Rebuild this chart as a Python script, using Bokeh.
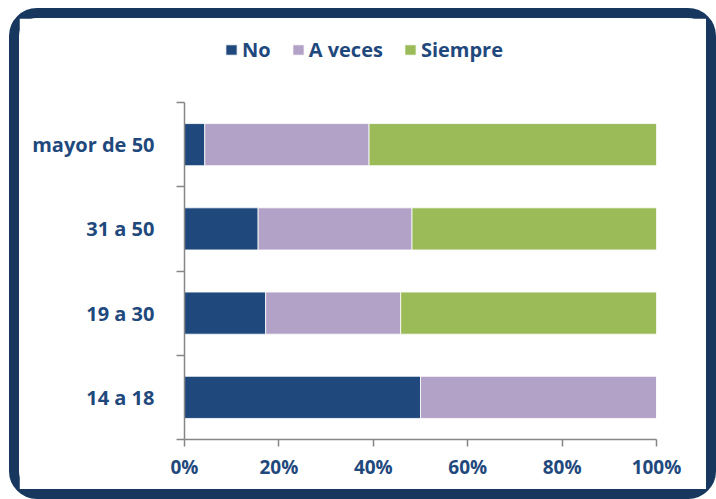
from bokeh.plotting import figure
from bokeh.models import (ColumnDataSource, FixedTicker, PrintfTickFormatter,
                          Legend, LegendItem, Range1d)
from bokeh.embed import file_html
from bokeh.resources import INLINE

# ---- data ----
categories = ["14 a 18", "19 a 30", "31 a 50", "mayor de 50"]   # bottom -> top
no_vals = [50.0, 17.2, 15.6, 4.3]
aveces_vals = [50.0, 28.6, 32.6, 34.8]
siempre_vals = [0.0, 54.2, 51.8, 60.9]
series_names = ["No", "A veces", "Siempre"]
series_colors = ["#1F497D", "#B3A2C7", "#9BBB59"]
x_ticks = [0, 20, 40, 60, 80, 100]

NAVY = "#1F497D"
FONT = "Open Sans"

n = len(categories)
pos = [i + 0.5 for i in range(n)]
left1 = [0.0] * n
right1 = [a for a in no_vals]
right2 = [a + b for a, b in zip(no_vals, aveces_vals)]
right3 = [a + b + c for a, b, c in zip(no_vals, aveces_vals, siempre_vals)]

src = ColumnDataSource(dict(y=pos, l1=left1, r1=right1, r2=right2, r3=right3))

W, H = 707, 491
# plot frame spans 411 px vertically: 337 px for the bars, the rest holds the legend
top_extra = n * 411.0 / 337.0
p = figure(width=W, height=H, output_backend="svg", toolbar_location=None,
           x_range=Range1d(0, 100), y_range=Range1d(0, top_extra),
           min_border_left=165, min_border_right=70, min_border_top=10,
           min_border_bottom=70)
p.styles = {"margin-left": "9px", "margin-top": "8px",
            "border": "10px solid #17375E", "border-radius": "28px",
            "box-sizing": "border-box"}
p.outline_line_color = None
p.background_fill_color = "white"
p.border_fill_color = "white"
p.xgrid.visible = False
p.ygrid.visible = False

r_no = p.hbar(y="y", left="l1", right="r1", height=0.5, source=src,
              fill_color=series_colors[0], line_color="white", line_width=0.8)
r_av = p.hbar(y="y", left="r1", right="r2", height=0.5, source=src,
              fill_color=series_colors[1], line_color="white", line_width=0.8)
r_si = p.hbar(y="y", left="r2", right="r3", height=0.5, source=src,
              fill_color=series_colors[2], line_color="white", line_width=0.8)

# x axis
xa = p.xaxis[0]
xa.ticker = FixedTicker(ticks=x_ticks)
xa.formatter = PrintfTickFormatter(format="%d%%")
xa.axis_line_color = "#868686"
xa.axis_line_width = 1.5
xa.major_tick_line_color = "#868686"
xa.major_tick_line_width = 1.5
xa.major_tick_out = 7
xa.major_tick_in = 0
xa.minor_tick_line_color = None
xa.major_label_text_font = FONT
xa.major_label_text_font_style = "bold"
xa.major_label_text_font_size = "19px"
xa.major_label_text_color = NAVY
xa.major_label_standoff = 7

# y axis
ya = p.yaxis[0]
ya.bounds = (0, n)
ya.ticker = FixedTicker(ticks=pos, minor_ticks=list(range(n + 1)))
ya.major_label_overrides = {pp: c for pp, c in zip(pos, categories)}
ya.axis_line_color = "#868686"
ya.axis_line_width = 1.5
ya.major_tick_line_color = None
ya.major_tick_out = 0
ya.major_tick_in = 0
ya.minor_tick_line_color = "#868686"
ya.minor_tick_line_width = 1.5
ya.minor_tick_out = 8
ya.minor_tick_in = 0
ya.major_label_text_font = FONT
ya.major_label_text_font_style = "bold"
ya.major_label_text_font_size = "20px"
ya.major_label_text_color = NAVY
ya.major_label_standoff = 22

legend = Legend(items=[LegendItem(label=s, renderers=[r]) for s, r in
                       zip(series_names, [r_no, r_av, r_si])],
                orientation="horizontal", location=(40, 376),
                border_line_color=None, background_fill_alpha=0,
                label_text_font=FONT, label_text_font_style="bold",
                label_text_font_size="20px", label_text_color=NAVY,
                glyph_width=14, glyph_height=13, label_standoff=4,
                spacing=20, margin=0, padding=0)
p.add_layout(legend)

open("out.html", "w").write(file_html(p, INLINE))
